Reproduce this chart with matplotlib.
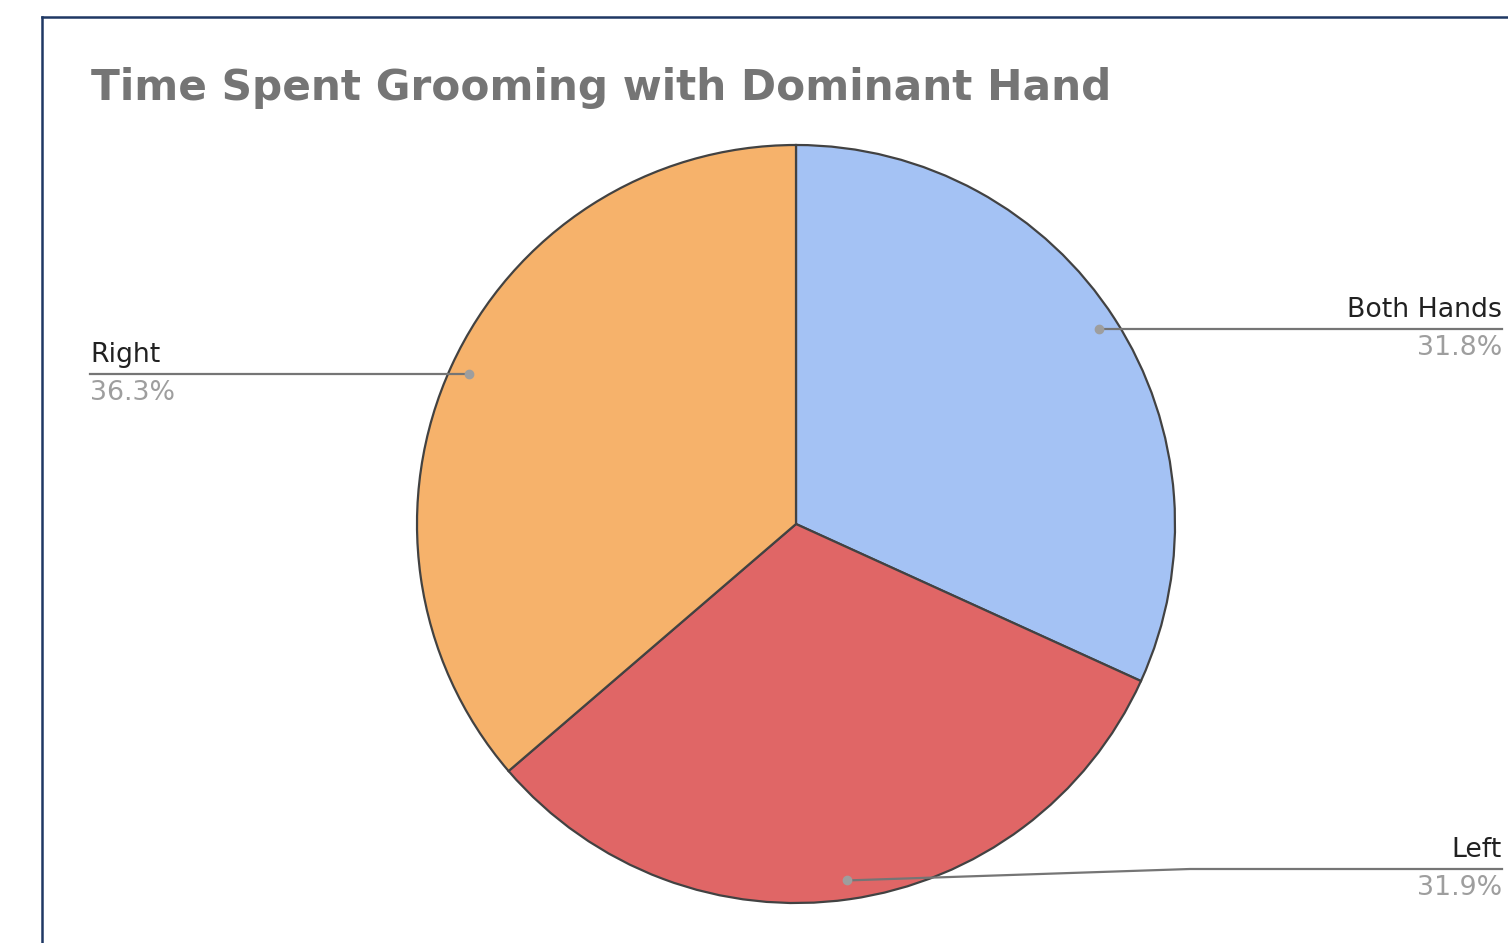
import numpy as np
import matplotlib.pyplot as plt
from matplotlib.lines import Line2D

# Data
labels = ['Both Hands', 'Left', 'Right']
shares = [31.8, 31.9, 36.3]
colors = ['#a4c2f4', '#e06666', '#f6b26b']

plt.rcParams['font.family'] = ['DejaVu Sans']

W, H = 1508, 943
fig = plt.figure(figsize=(W / 100, H / 100), dpi=100)

# frame around chart (cut off at right/bottom)
fig.add_artist(Line2D([42 / W, 42 / W], [0, 1 - 17 / H], color='#1f3864', lw=1.8))
fig.add_artist(Line2D([42 / W, 1], [1 - 17 / H, 1 - 17 / H], color='#1f3864', lw=1.8))

fig.text(91 / W, 1 - 88 / H, 'Time Spent Grooming with Dominant Hand',
         fontsize=30.4, fontweight='bold', color='#757575', va='center', ha='left')

# pie axes: centre (796, 524) px, radius 379 px
cx, cy, R = 796, 524, 379
ax = fig.add_axes([(cx - R) / W, (H - cy - R) / H, 2 * R / W, 2 * R / H])

wedges, _ = ax.pie(shares, colors=colors, startangle=90, counterclock=False, radius=1,
                   wedgeprops=dict(edgecolor='#424242', linewidth=1.6))
ax.set_xlim(-1, 1)
ax.set_ylim(-1, 1)
ax.set_aspect('equal')
ax.axis('off')


def px(x, y):
    # figure pixel (from top) -> pie data coords
    return (x - cx) / R, (cy - y) / R


line_c = '#757575'
for w, lab, val in zip(wedges, labels, shares):
    mid = np.deg2rad((w.theta1 + w.theta2) / 2)
    ax_, ay_ = 0.95 * np.cos(mid), 0.95 * np.sin(mid)
    ax.plot(ax_, ay_, 'o', color='#9e9e9e', ms=6, clip_on=False, zorder=5)
    if lab == 'Right':
        ex, _ = px(90, 0)
        ey = ay_
        ax.plot([ax_, ex], [ay_, ey], color=line_c, lw=1.6, clip_on=False, zorder=4)
        tx, ha = ex, 'left'
    elif lab == 'Both Hands':
        ex, _ = px(1502, 0)
        ey = ay_
        ax.plot([ax_, ex], [ay_, ey], color=line_c, lw=1.6, clip_on=False, zorder=4)
        tx, ha = ex, 'right'
    else:
        bx, by = px(1190, 869)
        ex, _ = px(1502, 0)
        ey = by
        ax.plot([ax_, bx, ex], [ay_, by, ey], color=line_c, lw=1.6, clip_on=False, zorder=4)
        tx, ha = ex, 'right'
    ax.annotate(lab, (tx, ey), xytext=(0, 6), textcoords='offset pixels',
                ha=ha, va='bottom', fontsize=19.3, color='#212121', annotation_clip=False)
    ax.annotate(f'{val}%', (tx, ey), xytext=(0, -6), textcoords='offset pixels',
                ha=ha, va='top', fontsize=19.3, color='#9e9e9e', annotation_clip=False)

fig.savefig('out.png', dpi=100)
